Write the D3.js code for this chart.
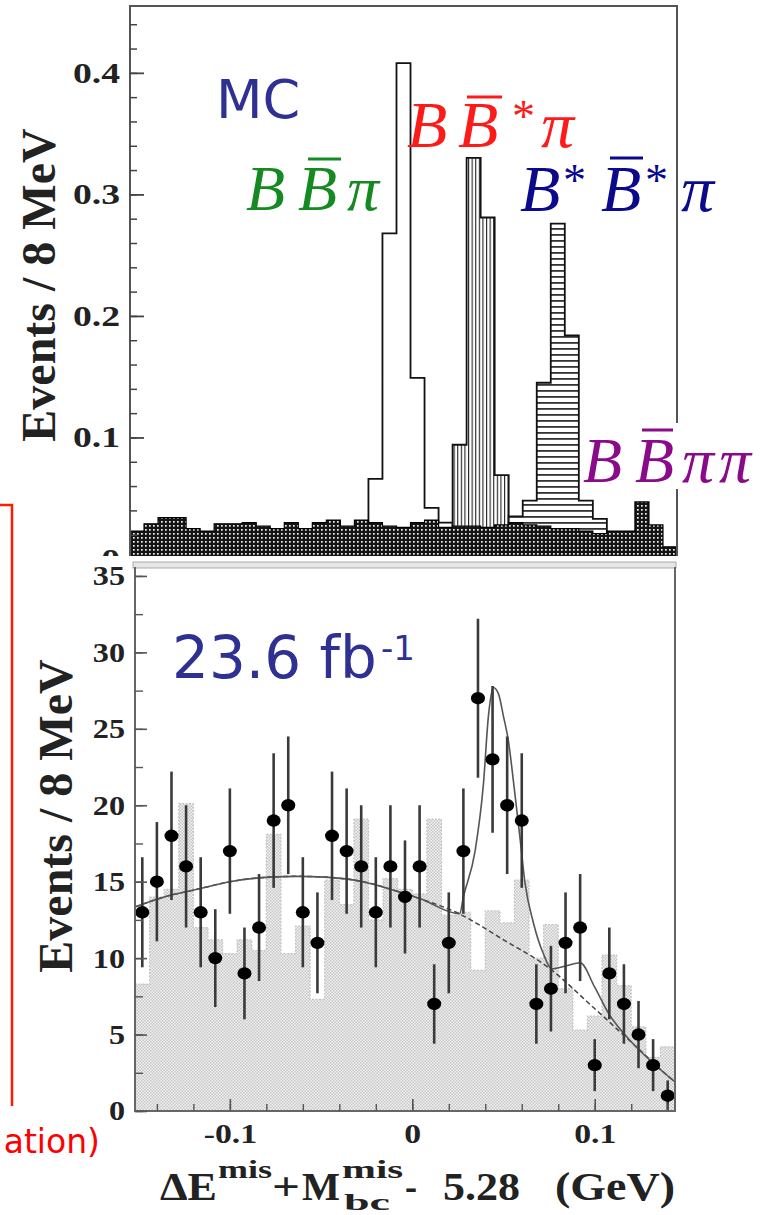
<!DOCTYPE html>
<html><head><meta charset="utf-8">
<script src="https://cdn.jsdelivr.net/npm/d3@7"></script>
<style>body{margin:0;background:#fff}svg{display:block}</style>
</head><body><svg id="c" width="773" height="1215"></svg>
<script>
// ---------------- DATA ----------------
// Top panel (MC), 8 MeV bins starting at -0.160 GeV
const topBinStart = -0.160, binW = 0.008;
const mcBBpipiVals = [0.023,0.029,0.034,0.034,0.025,0.023,0.029,0.029,0.030,0.027,0.025,0.030,0.025,0.030,0.032,0.027,0.032,0.030,0.027,0.026,0.030,0.032,0.026,0.027,0.027,0.026,0.028,0.030,0.028,0.027,0.025,0.025,0.023,0.021,0.023,0.023,0.047,0.028,0.010];
const mcBBpiLow  = [-0.024,-0.016,-0.008,0.000,0.008,0.016];
const mcBBpiVals = [0.066,0.268,0.408,0.149,0.042,0.030];
const mcBBstpiLow  = [0.016,0.024,0.032,0.040,0.048,0.056];
const mcBBstpiVals = [0.022,0.094,0.330,0.281,0.069,0.028];
const mcBstBstpiLow  = [0.056,0.064,0.072,0.080,0.088,0.096,0.104];
const mcBstBstpiVals = [0.035,0.048,0.145,0.276,0.184,0.048,0.033];
const topYTicks = [0,0.1,0.2,0.3,0.4];

// Bottom panel (data, 23.6 fb^-1), bins from -0.152 GeV
const botBinStart = -0.152;
const dataX = [-0.148,-0.140,-0.132,-0.124,-0.116,-0.108,-0.100,-0.092,-0.084,-0.076,-0.068,-0.060,-0.052,-0.044,-0.036,-0.028,-0.020,-0.012,-0.004,0.004,0.012,0.020,0.028,0.036,0.044,0.052,0.060,0.068,0.076,0.084,0.092,0.100,0.108,0.116,0.124,0.132,0.140];
const dataY = [13,15,18,16,13,10,17,9,12,19,20,13,11,18,17,16,13,16,14,16,7,11,17,27,23,20,19,7,8,11,12,3,9,7,5,3,1];
const dataErr = [3.6,3.9,4.2,4.0,3.6,3.2,4.1,3.0,3.5,4.4,4.5,3.6,3.3,4.2,4.1,4.0,3.6,4.0,3.7,4.0,2.6,3.3,4.1,5.2,4.8,4.5,4.4,2.6,2.8,3.3,3.5,1.7,3.0,2.6,2.2,1.7,1.0];
const mcHistVals = [8.3,14.0,14.5,20.1,12.0,11.2,10.3,11.2,10.5,18.1,10.3,12.1,7.3,15.1,13.5,19.1,12.5,15.2,14.5,14.2,19.1,12.8,13.0,9.2,13.1,12.3,15.1,10.0,12.2,8.0,5.3,6.2,10.2,8.2,5.5,3.5,4.2];
const bkgFitX = [-0.152,-0.136,-0.118,-0.100,-0.078,-0.063,-0.048,-0.027,-0.009,0.004,0.024,0.050,0.0755,0.099,0.121,0.141,0.144];
const bkgFitY = [13.35,14.0,14.5,15.0,15.3,15.35,15.3,15.0,14.4,13.9,13.0,11.2,9.3,6.8,4.4,2.2,1.9];
const totFitX = [-0.152,-0.136,-0.118,-0.100,-0.078,-0.063,-0.048,-0.027,-0.009,0.004,0.026,0.028,0.0344,0.039,0.0417,0.0444,0.0472,0.050,0.0527,0.0556,0.059,0.0618,0.0664,0.0718,0.0764,0.0845,0.092,0.100,0.108,0.115,0.121,0.141,0.144];
const totFitY = [13.35,14.0,14.5,15.0,15.3,15.35,15.3,15.0,14.4,13.9,12.9,14.0,17.0,21.4,25.8,27.7,27.3,25.8,24.2,21.4,17.9,14.9,12.3,10.3,9.3,9.5,9.7,8.1,6.3,5.2,4.4,2.2,1.9];
const botYTicks = [0,5,10,15,20,25,30,35];
const botXTicks = [-0.1,0,0.1];

// ---------------- DRAWING ----------------
const svg = d3.select("#c");
const defs = svg.append("defs");
function pat(id,w,h,build){const p=defs.append("pattern").attr("id",id).attr("patternUnits","userSpaceOnUse").attr("width",w).attr("height",h);build(p);}
pat("dark",4,4,p=>{p.append("rect").attr("width",4).attr("height",4).attr("fill","#151515");p.append("rect").attr("x",1).attr("y",1).attr("width",1.7).attr("height",1.7).attr("fill","#f0f0f0");});
pat("vstr",3.6,10,p=>{p.append("rect").attr("width",3.6).attr("height",10).attr("fill","#fff");p.append("rect").attr("width",1.1).attr("height",10).attr("fill","#222");});
pat("hstr",10,6,p=>{p.append("rect").attr("width",10).attr("height",6).attr("fill","#fff");p.append("rect").attr("width",10).attr("height",1.8).attr("fill","#333");});
pat("light",3,3,p=>{p.append("rect").attr("width",3).attr("height",3).attr("fill","#f4f4f4");p.append("rect").attr("width",1.5).attr("height",1.5).attr("fill","#c4c4c4");p.append("rect").attr("x",1.5).attr("y",1.5).attr("width",1.5).attr("height",1.5).attr("fill","#c4c4c4");});
defs.append("clipPath").attr("id","topclip").append("rect").attr("x",0).attr("y",0).attr("width",773).attr("height",556);

const serif = "Liberation Serif";
const sans = "DejaVu Sans";

// red slide remnants
svg.append("path").attr("d","M0,505 H12 V1106").attr("fill","none").attr("stroke","#ff1a00").attr("stroke-width",2.5);
svg.append("text").attr("x",100).attr("y",1153).attr("text-anchor","end").attr("font-family",sans).attr("font-size",33).attr("fill","#ff0000").text("ation)");

// ---- top panel ----
const xT = d3.scaleLinear().domain([topBinStart, 0.152]).range([130,677]);
const yT = d3.scaleLinear().domain([0,0.455]).range([559,6]);
const areaT = d3.area().x(d=>xT(d[0])).y0(yT(0)).y1(d=>yT(d[1])).curve(d3.curveStepAfter);
function steps(lows, vals){const p=lows.map((x,i)=>[x,vals[i]]);p.push([lows[lows.length-1]+binW, vals[vals.length-1]]);return p;}
const gT = svg.append("g").attr("clip-path","url(#topclip)");
gT.append("path").attr("d",areaT(steps(mcBBpiLow,mcBBpiVals))).attr("fill","#fff").attr("stroke","#111").attr("stroke-width",1.8);
gT.append("path").attr("d",areaT(steps(mcBBstpiLow,mcBBstpiVals))).attr("fill","url(#vstr)").attr("stroke","#111").attr("stroke-width",1.8);
gT.append("path").attr("d",areaT(steps(mcBstBstpiLow,mcBstBstpiVals))).attr("fill","url(#hstr)").attr("stroke","#111").attr("stroke-width",1.8);
const bgLows = mcBBpipiVals.map((v,i)=>topBinStart+i*binW);
gT.append("path").attr("d",areaT(steps(bgLows,mcBBpipiVals))).attr("fill","url(#dark)").attr("stroke","#000").attr("stroke-width",1.2);
// frame
gT.append("path").attr("d",`M130,559 V6 H677 V559`).attr("fill","none").attr("stroke","#555").attr("stroke-width",2);
// y axis
const topMinor = d3.range(0,0.441,0.02);
gT.append("g").attr("transform","translate(130,0)").call(d3.axisLeft(yT).tickValues(topMinor).tickSize(-7).tickFormat(""))
  .call(g=>{g.select(".domain").remove();g.selectAll("line").attr("stroke","#444").attr("stroke-width",1.5);});
gT.append("g").attr("transform","translate(130,0)").call(d3.axisLeft(yT).tickValues(topYTicks).tickSizeInner(-14).tickSizeOuter(0).tickPadding(10).tickFormat(d=>d===0?"0":d3.format(".1f")(d)))
  .call(g=>{g.select(".domain").remove();g.selectAll("line").attr("stroke","#444").attr("stroke-width",1.8);
    g.selectAll("text").attr("font-family",serif).attr("font-weight","bold").attr("font-size",29).attr("fill","#222")
     .attr("x",-10/1.3).attr("transform","scale(1.3,1)");});
svg.append("text").attr("transform","translate(55,285) rotate(-90)").attr("text-anchor","middle").attr("font-family",serif).attr("font-weight","bold").attr("font-size",48).attr("fill","#222").text("Events / 8 MeV");

// MC label texts
svg.append("text").attr("x",216).attr("y",118).attr("font-family",sans).attr("font-size",54).attr("fill","#2e3192").text("MC");
function mathLabel(parts,color,size,baseline,bg){
  const g=svg.append("g");
  if(bg) g.append("rect").attr("x",bg[0]).attr("y",bg[1]).attr("width",bg[2]).attr("height",bg[3]).attr("fill","#fff");
  parts.forEach(p=>{
    const sup = p.t==="*";
    g.append("text").attr("x",p.x).attr("y",sup?baseline-size*0.22:baseline)
      .attr("font-family",serif).attr("font-style",sup?"normal":"italic")
      .attr("font-size",sup?size*0.7:size).attr("fill",color).text(p.t);
    if(p.bar) g.append("line").attr("x1",p.bar[0]).attr("x2",p.bar[1]).attr("y1",p.bar[2]).attr("y2",p.bar[2]).attr("stroke",color).attr("stroke-width",3);
  });
}
mathLabel([{t:"B",x:246},{t:"B",x:298,bar:[308,341,159]},{t:"π",x:347}],"#168a22",64,210);
mathLabel([{t:"B",x:407},{t:"B",x:458,bar:[467,502,97]},{t:"*",x:512},{t:"π",x:541}],"#ff1a1a",66,147);
mathLabel([{t:"B",x:520},{t:"*",x:563},{t:"B",x:601,bar:[610,643,158]},{t:"*",x:645},{t:"π",x:681}],"#0a0a8a",66,211);
mathLabel([{t:"B",x:583},{t:"B",x:635,bar:[642,673,430]},{t:"π",x:682},{t:"π",x:719}],"#8a0a8a",64,482,[582,423,185,66]);

// ---- bottom panel ----
const xB = d3.scaleLinear().domain([botBinStart,0.144]).range([135,675]);
const yB = d3.scaleLinear().domain([0,35.65]).range([1111,566]);
svg.append("rect").attr("x",126).attr("y",560).attr("width",560).attr("height",560).attr("fill","#fff");
const gB = svg.append("g");
const areaB = d3.area().x(d=>xB(d[0])).y0(yB(0)).y1(d=>yB(d[1])).curve(d3.curveStepAfter);
const hLows = mcHistVals.map((v,i)=>botBinStart+i*binW);
gB.append("path").attr("d",areaB(steps(hLows,mcHistVals))).attr("fill","url(#light)").attr("stroke","#c4c4c4").attr("stroke-width",1.2).attr("stroke-dasharray","2,1.5");
// fits
const lineB = d3.line().x(d=>xB(d[0])).y(d=>yB(d[1])).curve(d3.curveMonotoneX);
gB.append("path").attr("d",lineB(bkgFitX.map((x,i)=>[x,bkgFitY[i]]))).attr("fill","none").attr("stroke","#444").attr("stroke-width",1.5).attr("stroke-dasharray","5,3");
gB.append("path").attr("d",lineB(totFitX.map((x,i)=>[x,totFitY[i]]))).attr("fill","none").attr("stroke","#555").attr("stroke-width",1.6);
// data
const pts = dataX.map((x,i)=>({x,y:dataY[i],e:dataErr[i]}));
gB.selectAll("line.err").data(pts).join("line").attr("class","err")
  .attr("x1",d=>xB(d.x)).attr("x2",d=>xB(d.x)).attr("y1",d=>yB(d.y-d.e)).attr("y2",d=>yB(d.y+d.e))
  .attr("stroke","#3a3a3a").attr("stroke-width",2.6);
gB.selectAll("ellipse").data(pts).join("ellipse").attr("cx",d=>xB(d.x)).attr("cy",d=>yB(d.y)).attr("rx",7).attr("ry",6.2).attr("fill","#000");
// frame
gB.append("rect").attr("x",133).attr("y",562).attr("width",543).attr("height",6).attr("fill","#e6e6e6").attr("stroke","#aaa").attr("stroke-width",1);
gB.append("path").attr("d","M135,567 V1111 H675 V567").attr("fill","none").attr("stroke","#666").attr("stroke-width",2);
// axes
gB.append("g").attr("transform","translate(135,0)").call(d3.axisLeft(yB).tickValues(d3.range(0,35.1,2.5)).tickSize(-8).tickFormat(""))
  .call(g=>{g.select(".domain").remove();g.selectAll("line").attr("stroke","#555").attr("stroke-width",1.4);});
gB.append("g").attr("transform","translate(135,0)").call(d3.axisLeft(yB).tickValues(botYTicks).tickSizeInner(-12).tickSizeOuter(0).tickPadding(10))
  .call(g=>{g.select(".domain").remove();g.selectAll("line").attr("stroke","#555").attr("stroke-width",1.6);
    g.selectAll("text").attr("font-family",serif).attr("font-weight","bold").attr("font-size",28).attr("fill","#222")
     .attr("x",-10/1.15).attr("transform","scale(1.15,1)");});
gB.append("g").attr("transform","translate(0,1111)").call(d3.axisBottom(xB).tickValues(d3.range(-0.14,0.141,0.02)).tickSize(-7).tickFormat(""))
  .call(g=>{g.select(".domain").remove();g.selectAll("line").attr("stroke","#555").attr("stroke-width",1.4);});
gB.append("g").attr("transform","translate(0,1111)").call(d3.axisBottom(xB).tickValues(botXTicks).tickSizeInner(-12).tickSizeOuter(0).tickPadding(13).tickFormat(d=>d===0?"0":d3.format(".1f")(d).replace("−","-")))
  .call(g=>{g.select(".domain").remove();g.selectAll("line").attr("stroke","#555").attr("stroke-width",1.6);
    g.selectAll("text").attr("font-family",serif).attr("font-weight","bold").attr("font-size",27).attr("fill","#222")
     .attr("transform","scale(1.25,1)");});
svg.append("text").attr("transform","translate(72,816) rotate(-90)").attr("text-anchor","middle").attr("font-family",serif).attr("font-weight","bold").attr("font-size",48).attr("fill","#222").text("Events / 8 MeV");
svg.append("text").attr("x",172).attr("y",678).attr("font-family",sans).attr("font-size",58).attr("fill","#2e3192").text("23.6 fb");
svg.append("text").attr("x",381).attr("y",660).attr("font-family",sans).attr("font-size",34).attr("fill","#2e3192").text("-1");

// x-axis title
const tt = [
  {t:"ΔE",x:160,y:1200,s:41,w:57},{t:"mis",x:218,y:1178,s:25,w:54},{t:"+",x:272,y:1200,s:41,w:28},
  {t:"M",x:302,y:1200,s:41,w:38},{t:"mis",x:342,y:1178,s:25,w:61},{t:"bc",x:344,y:1210,s:24,w:46},
  {t:"-",x:405,y:1200,s:41,w:12},{t:"5.28",x:443,y:1200,s:41,w:77},{t:"(GeV)",x:555,y:1200,s:41,w:120}];
svg.append("g").selectAll("text").data(tt).join("text").attr("x",d=>d.x).attr("y",d=>d.y).attr("font-family",serif).attr("font-weight","bold")
  .attr("font-size",d=>d.s).attr("fill","#222").attr("textLength",d=>d.w).attr("lengthAdjust","spacingAndGlyphs").text(d=>d.t);
</script></body></html>
